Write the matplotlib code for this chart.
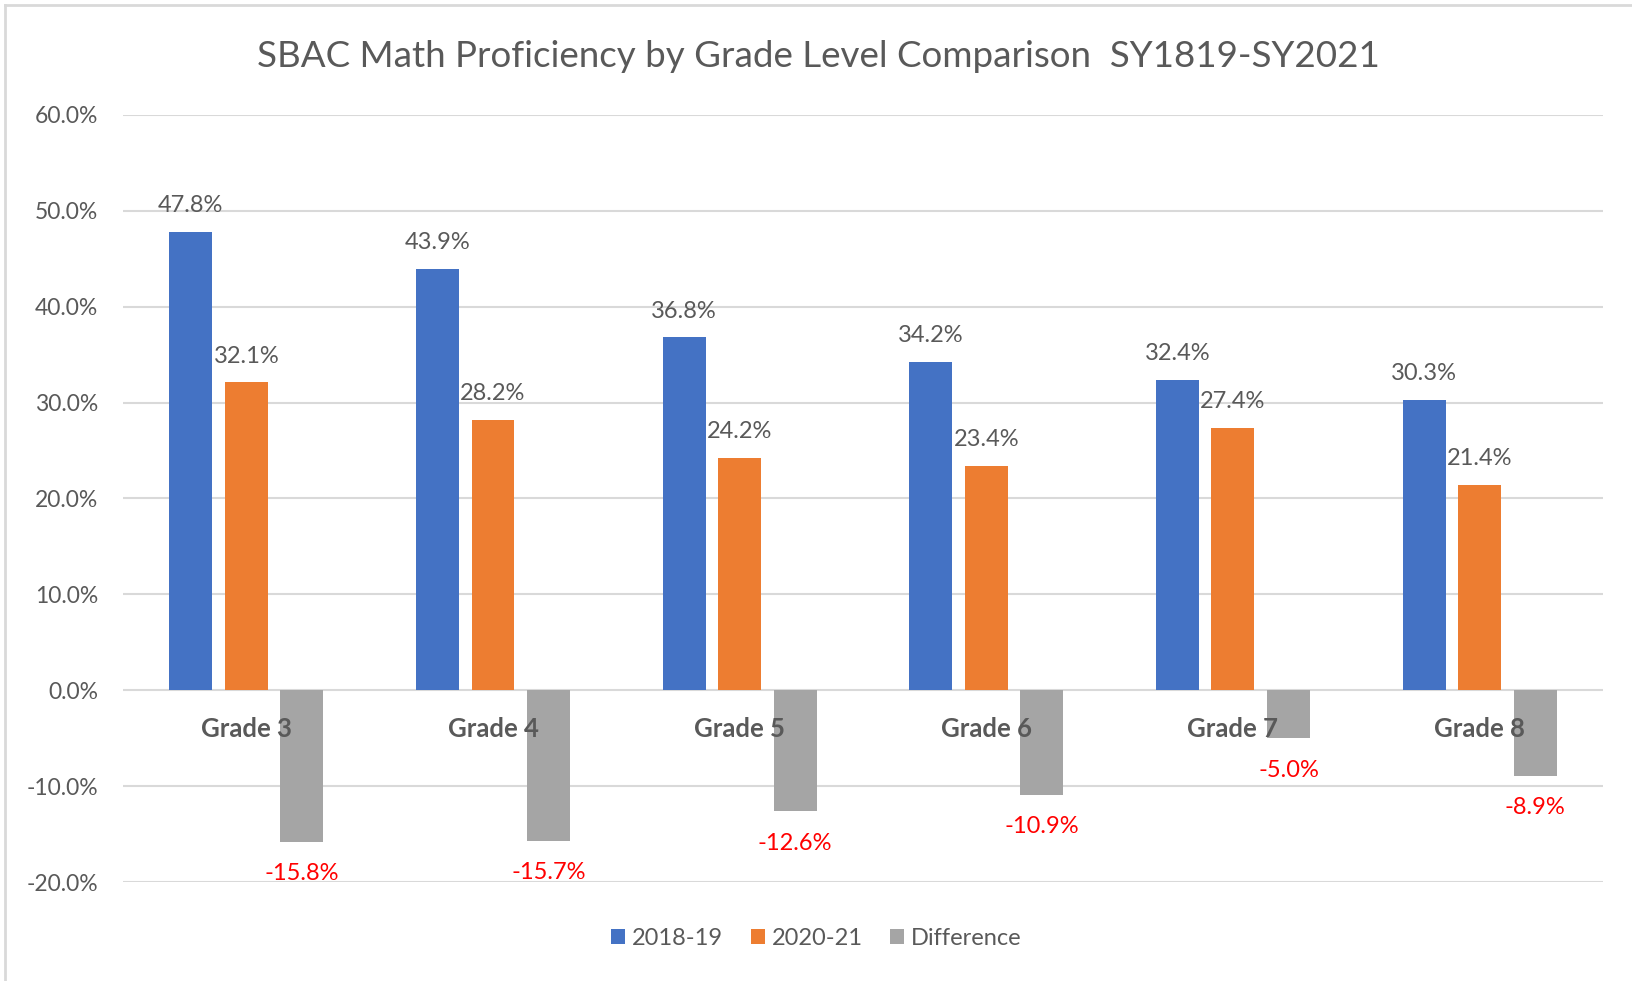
import matplotlib.pyplot as plt
import numpy as np
from matplotlib.lines import Line2D
from matplotlib.patches import Patch

plt.rcParams["font.family"] = ["Lato", "DejaVu Sans"]

grades = ["Grade 3", "Grade 4", "Grade 5", "Grade 6", "Grade 7", "Grade 8"]
sy1819 = [47.8, 43.9, 36.8, 34.2, 32.4, 30.3]
sy2021 = [32.1, 28.2, 24.2, 23.4, 27.4, 21.4]
difference = [-15.8, -15.7, -12.6, -10.9, -5.0, -8.9]
series_names = ["2018-19", "2020-21", "Difference"]
yticks = [-20, -10, 0, 10, 20, 30, 40, 50, 60]

COLORS = ["#4472C4", "#ED7D31", "#A5A5A5"]
TEXT = "#595959"
GRID = "#D9D9D9"

fig = plt.figure(figsize=(16.33, 9.81), dpi=100)
ax = fig.add_axes([0.0753, 0.1009, 0.9063, 0.7819])

x = np.arange(len(grades))
width = 0.174
offsets = [-0.225, 0.0, 0.225]
data = [sy1819, sy2021, difference]

for i, vals in enumerate(data):
    bars = ax.bar(x + offsets[i], vals, width, color=COLORS[i], zorder=2)
    for b, v in zip(bars, vals):
        cx = b.get_x() + b.get_width() / 2
        if v >= 0:
            ax.annotate(f"{v:.1f}%", (cx, v), xytext=(0, 19), textcoords="offset points",
                        ha="center", va="center", fontsize=17, color=TEXT, zorder=5)
        else:
            ax.annotate(f"{v:.1f}%", (cx, v), xytext=(0, -23), textcoords="offset points",
                        ha="center", va="center", fontsize=17, color="#FF0000", zorder=5)

# category labels drawn above the bars, like the source
for xi, g in zip(x, grades):
    ax.annotate(g, (xi, 0), xytext=(0, -28), textcoords="offset points",
                ha="center", va="center", fontsize=18.5, fontweight="bold",
                color=TEXT, zorder=6)

ax.set_xlim(-0.5, len(grades) - 0.5)
ax.set_ylim(-20, 60)
ax.set_yticks(yticks)
ax.set_yticklabels([f"{t:.1f}%" for t in yticks], fontsize=16.5, color=TEXT)
ax.set_xticks([])
ax.tick_params(axis="y", length=0, pad=18)
ax.grid(axis="y", color=GRID, linewidth=1.5, zorder=0)
ax.set_axisbelow(True)
for s in ax.spines.values():
    s.set_visible(False)

fig.text(0.501, 0.942, "SBAC Math Proficiency by Grade Level Comparison  SY1819-SY2021",
         ha="center", va="center", fontsize=26.5, color=TEXT)

handles = [Patch(facecolor=c, edgecolor="none") for c in COLORS]
fig.legend(handles, series_names, loc="center", bbox_to_anchor=(0.5, 0.043), ncol=3,
           frameon=False, fontsize=17, labelcolor=TEXT, handlelength=0.6,
           handleheight=0.6, handletextpad=0.3, columnspacing=1.15)

# light outer frame (top and left edges)
fig.add_artist(Line2D([0.003, 0.003], [0.0, 0.995], transform=fig.transFigure, color=GRID, lw=2))
fig.add_artist(Line2D([0.003, 1.0], [0.995, 0.995], transform=fig.transFigure, color=GRID, lw=2))

fig.savefig("out.png", dpi=100)
